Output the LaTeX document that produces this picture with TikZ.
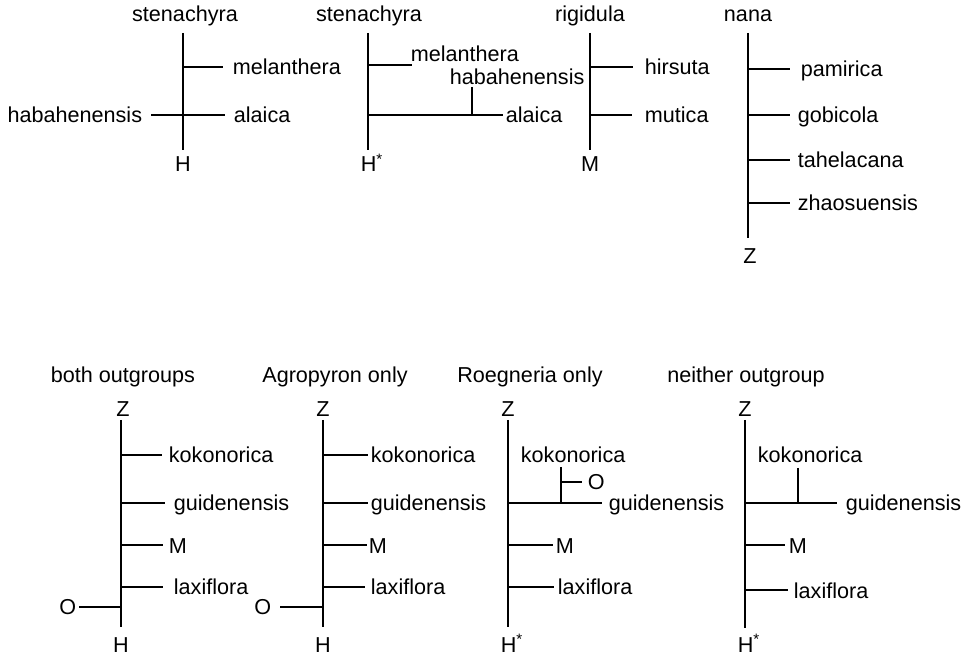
\documentclass[tikz,border=0pt]{standalone}
\usepackage{fontspec}
\setmainfont{Liberation Sans}
\usetikzlibrary{positioning}
\tikzset{
  lab/.style = {anchor=west, inner xsep=4pt, inner ysep=0pt, text height=8pt, text depth=0pt, font=\fontsize{10.8}{13}\selectfont},
  ttl/.style = {inner sep=0pt, text height=8pt, text depth=0pt, font=\fontsize{10.8}{13}\selectfont},
  tree/.style = {line width=0.9pt}
}

\begin{document}
\begin{tikzpicture}[x=0.5pt, y=-0.5pt, tree]
	\useasboundingbox (0,0) rectangle (968,656);
	% top row
	\node[ttl] (t1) at (185,14) {stenachyra};
	\coordinate (s1a) at (183,33);
	\coordinate (s1b) at (183,150);
	\coordinate (s1m) at (183,67);
	\node[ttl] (r1) at (183,164) {H};
	\node[lab, inner xsep=4.5pt] (mel1) at (223,67) {melanthera};
	\node[lab] (ala1) at (225,115) {alaica};
	\node[lab, anchor=east] (hab1) at (151,115) {habahenensis};
	\draw (s1a) -- (s1b);
	\draw (s1m) -- (mel1);
	\draw (hab1) -- (ala1);

	\node[ttl] (t2) at (369,14) {stenachyra};
	\coordinate (s2a) at (368,33);
	\coordinate (s2b) at (368,150);
	\coordinate (s2m) at (368,65);
	\coordinate (e2m) at (412,65);
	\coordinate (s2j) at (368,115);
	\coordinate (k2a) at (472,87);
	\coordinate (k2b) at (472,115);
	\node[ttl] (r2) at (372,164) {H\textsuperscript{*}};
	\node[lab, inner xsep=0pt] (mel2) at (410,54) {melanthera};
	\node[lab, inner xsep=0pt] (hab2) at (449,77) {habahenensis};
	\node[lab, inner xsep=1pt] (ala2) at (503,115) {alaica};
	\draw (s2a) -- (s2b);
	\draw (s2m) -- (e2m);
	\draw (s2j) -- (ala2);
	\draw (k2a) -- (k2b);

	\node[ttl] (t3) at (590,14) {rigidula};
	\coordinate (s3a) at (590,33);
	\coordinate (s3b) at (590,150);
	\coordinate (s3h) at (590,67);
	\coordinate (s3m) at (590,115);
	\node[ttl] (r3) at (590,164) {M};
	\node[lab, inner xsep=5.5pt] (hir3) at (633,67) {hirsuta};
	\node[lab, inner xsep=6pt] (mut3) at (632,115) {mutica};
	\draw (s3a) -- (s3b);
	\draw (s3h) -- (hir3);
	\draw (s3m) -- (mut3);

	\node[ttl] (t4) at (748,14) {nana};
	\coordinate (s4a) at (748,33);
	\coordinate (s4b) at (748,238);
	\coordinate (s4p) at (748,69);
	\coordinate (s4g) at (748,115);
	\coordinate (s4t) at (748,160);
	\coordinate (s4z) at (748,203);
	\node[ttl] (r4) at (750,256) {Z};
	\node[lab, inner xsep=5pt] (pam4) at (790,69) {pamirica};
	\node[lab, inner xsep=3.5pt] (gob4) at (790,115) {gobicola};
	\node[lab, inner xsep=3.5pt] (tah4) at (790,160) {tahelacana};
	\node[lab, inner xsep=3.5pt] (zha4) at (790,203) {zhaosuensis};
	\draw (s4a) -- (s4b);
	\draw (s4p) -- (pam4);
	\draw (s4g) -- (gob4);
	\draw (s4t) -- (tah4);
	\draw (s4z) -- (zha4);

	% bottom row
	\node[ttl] (t5) at (123,375) {both outgroups};
	\node[ttl] (z5) at (123,409) {Z};
	\coordinate (s5a) at (121,420);
	\coordinate (s5b) at (121,627);
	\coordinate (s5k) at (121,455);
	\coordinate (s5g) at (121,503);
	\coordinate (s5m) at (121,545);
	\coordinate (s5l) at (121,587);
	\coordinate (s5o) at (121,607);
	\node[ttl] (r5) at (121,644) {H};
	\node[lab, inner xsep=3pt] (kok5) at (162,455) {kokonorica};
	\node[lab, inner xsep=4pt] (gui5) at (165,503) {guidenensis};
	\node[lab, inner xsep=2.5pt] (m5) at (163,545) {M};
	\node[lab, inner xsep=5pt] (lax5) at (163,587) {laxiflora};
	\node[lab, anchor=east, inner xsep=1pt] (o5) at (79,607) {O};
	\draw (s5a) -- (s5b);
	\draw (s5k) -- (kok5);
	\draw (s5g) -- (gui5);
	\draw (s5m) -- (m5);
	\draw (s5l) -- (lax5);
	\draw (o5) -- (s5o);

	\node[ttl] (t6) at (335,375) {Agropyron only};
	\node[ttl] (z6) at (323,409) {Z};
	\coordinate (s6a) at (323,420);
	\coordinate (s6b) at (323,627);
	\coordinate (s6k) at (323,455);
	\coordinate (s6g) at (323,503);
	\coordinate (s6m) at (323,545);
	\coordinate (s6l) at (323,587);
	\coordinate (s6o) at (323,607);
	\node[ttl] (r6) at (323,644) {H};
	\node[lab, inner xsep=1pt] (kok6) at (368,455) {kokonorica};
	\node[lab, inner xsep=1pt] (gui6) at (368,503) {guidenensis};
	\node[lab, inner xsep=0.5pt] (m6) at (367,545) {M};
	\node[lab, inner xsep=2.5pt] (lax6) at (365,587) {laxiflora};
	\node[lab, anchor=east, inner xsep=4pt] (o6) at (280,607) {O};
	\draw (s6a) -- (s6b);
	\draw (s6k) -- (kok6);
	\draw (s6g) -- (gui6);
	\draw (s6m) -- (m6);
	\draw (s6l) -- (lax6);
	\draw (o6) -- (s6o);

	\node[ttl] (t7) at (530,375) {Roegneria only};
	\node[ttl] (z7) at (508,409) {Z};
	\coordinate (s7a) at (508,420);
	\coordinate (s7b) at (508,627);
	\coordinate (s7g) at (508,503);
	\coordinate (s7m) at (508,545);
	\coordinate (s7l) at (508,587);
	\coordinate (k7a) at (561,467);
	\coordinate (k7b) at (561,503);
	\coordinate (k7o) at (561,482);
	\node[ttl] (r7) at (512,644) {H\textsuperscript{*}};
	\node[lab, inner xsep=0pt] (kok7) at (520,455) {kokonorica};
	\node[lab, inner xsep=2.5pt] (o7) at (582,482) {O};
	\node[lab, inner xsep=3pt] (gui7) at (602,503) {guidenensis};
	\node[lab, inner xsep=1pt] (m7) at (553,545) {M};
	\node[lab, inner xsep=1.5pt] (lax7) at (554,587) {laxiflora};
	\draw (s7a) -- (s7b);
	\draw (k7a) -- (k7b);
	\draw (k7o) -- (o7);
	\draw (s7g) -- (gui7);
	\draw (s7m) -- (m7);
	\draw (s7l) -- (lax7);

	\node[ttl] (t8) at (746,375) {neither outgroup};
	\node[ttl] (z8) at (745,409) {Z};
	\coordinate (s8a) at (745,420);
	\coordinate (s8b) at (745,628);
	\coordinate (s8g) at (745,503);
	\coordinate (s8m) at (745,545);
	\coordinate (s8l) at (745,590);
	\coordinate (k8a) at (798,468);
	\coordinate (k8b) at (798,503);
	\node[ttl] (r8) at (749,644) {H\textsuperscript{*}};
	\node[lab, inner xsep=0pt] (kok8) at (757,455) {kokonorica};
	\node[lab, inner xsep=4pt] (gui8) at (837,503) {guidenensis};
	\node[lab, inner xsep=1.5pt] (m8) at (785,545) {M};
	\node[lab, inner xsep=2.5pt] (lax8) at (788,590) {laxiflora};
	\draw (s8a) -- (s8b);
	\draw (k8a) -- (k8b);
	\draw (s8g) -- (gui8);
	\draw (s8m) -- (m8);
	\draw (s8l) -- (lax8);
\end{tikzpicture}
\end{document}
